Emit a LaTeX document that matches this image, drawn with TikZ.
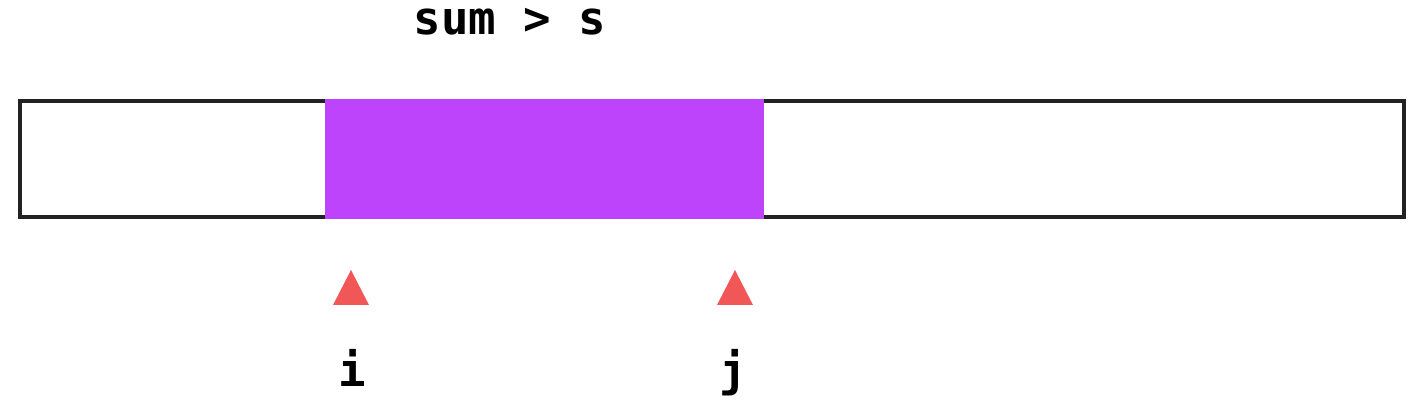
\documentclass[tikz,border=0pt]{standalone}
\usepackage{fontspec}
\newfontfamily\codefont{DejaVu Sans Mono}
\definecolor{barline}{HTML}{222222}
\definecolor{window}{HTML}{BE44FC}
\definecolor{pointer}{HTML}{F25757}
\tikzset{
  codetext/.style={font=\codefont\bfseries\fontsize{26}{30}\selectfont, inner sep=0pt},
}
\begin{document}
\begin{tikzpicture}[x=0.02cm,y=-0.02cm]
            \useasboundingbox (0,0) rectangle (1423,408);
            \coordinate (L) at (20,101);
            \coordinate (R) at (1404,217);
            \coordinate (I) at (351,270);
            \coordinate (J) at (735,270);

            \draw[barline, line width=2.5pt] (L) rectangle (R);
            \fill[window] (325,99) rectangle (764,219);

            \fill[pointer] (I)--++(-18,35)--++(36,0)--cycle;
            \fill[pointer] (J)--++(-18,35)--++(36,0)--cycle;

            \node[codetext, anchor=base] (cond) at (510,35) {sum > s};
            \node[codetext, anchor=base] (ilabel) at (352,387) {i};
            \node[codetext, anchor=base] (jlabel) at (733,387) {j};
        \end{tikzpicture}
\end{document}
